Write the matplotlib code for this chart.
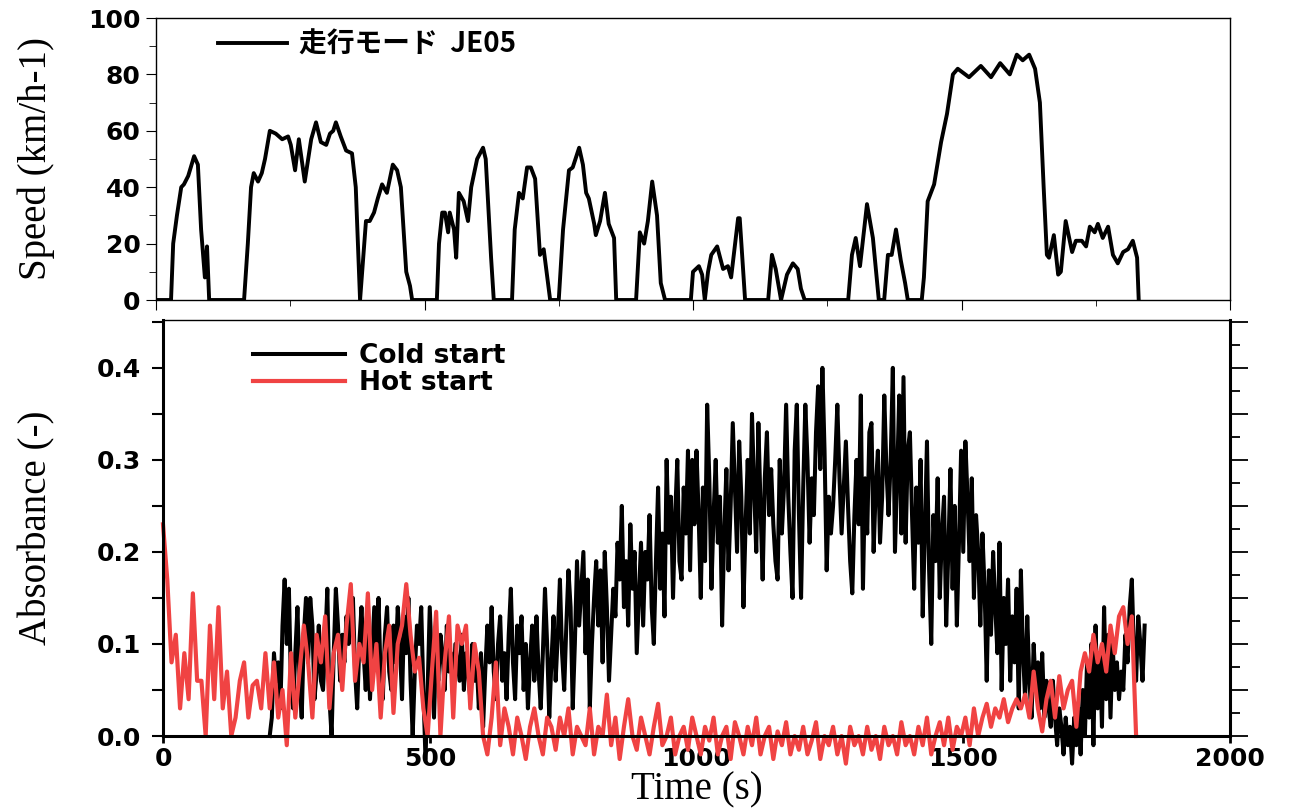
import numpy as np
import matplotlib
matplotlib.use("Agg")
import matplotlib.pyplot as plt
from matplotlib.ticker import MultipleLocator

# JE05 driving mode: time (s), speed (km/h)
speed_t = [0, 28, 32, 39, 47, 52, 60, 71, 78, 84, 91, 95, 99, 164, 171, 177, 182, 190, 197,
           203, 212, 223, 235, 246, 251, 259, 266, 277, 289, 298, 307, 317, 324, 330, 335,
           344, 354, 365, 372, 380, 384, 391, 398, 406, 413, 421, 430, 441, 449, 456, 466,
           473, 477, 523, 527, 533, 538, 544, 547, 555, 559, 564, 573, 581, 587, 598, 609,
           614, 624, 629, 663, 668, 676, 683, 691, 698, 706, 715, 722, 734, 750, 758, 769,
           776, 788, 795, 801, 806, 816, 819, 827, 836, 843, 853, 857, 894, 901, 909, 916,
           924, 933, 940, 948, 996, 1000, 1011, 1017, 1022, 1028, 1034, 1045, 1056, 1065,
           1071, 1084, 1087, 1097, 1140, 1147, 1154, 1164, 1175, 1186, 1195, 1201, 1208,
           1289, 1296, 1303, 1311, 1324, 1335, 1346, 1356, 1363, 1370, 1378, 1387, 1395,
           1400, 1426, 1430, 1437, 1449, 1462, 1473, 1484, 1493, 1514, 1536, 1555, 1572,
           1590, 1603, 1614, 1626, 1637, 1646, 1653, 1659, 1663, 1672, 1680, 1685, 1694,
           1706, 1713, 1724, 1732, 1739, 1748, 1754, 1763, 1773, 1782, 1791, 1801, 1810,
           1819, 1827, 1830]
speed_v = [0, 0, 20, 30, 40, 41, 44, 51, 48, 25, 8, 19, 0, 0, 20, 40, 45, 42, 45,
           50, 60, 59, 57, 58, 55, 46, 57, 42, 57, 63, 56, 55, 59, 60, 63,
           58, 53, 52, 40, 0, 10, 28, 28, 31, 36, 41, 38, 48, 46, 40, 10,
           5, 0, 0, 20, 31, 31, 24, 31, 25, 15, 38, 35, 28, 40, 50, 54,
           50, 15, 0, 0, 25, 38, 36, 47, 47, 43, 16, 18, 0, 0, 25, 46,
           47, 54, 48, 38, 36, 27, 23, 28, 38, 27, 22, 0, 0, 24, 20, 28,
           42, 30, 6, 0, 0, 10, 12, 9, 0, 10, 16, 19, 11, 12,
           8, 29, 29, 0, 0, 16, 11, 0, 9, 13, 11, 4, 0,
           0, 16, 22, 12, 34, 22, 0, 0, 16, 16, 25, 14, 6,
           0, 0, 8, 35, 41, 56, 66, 80, 82, 79, 83, 79, 84,
           80, 87, 85, 87, 82, 70, 40, 16, 15, 23, 9, 10, 28,
           17, 21, 21, 19, 26, 24, 27, 22, 26, 16, 13, 17, 18,
           21, 15, 0]

# cold start absorbance, one value every 4 s from 200 s (one row = 100 s)
cold_t0, cold_step = 200, 4
cold_start = [
    0.00, 0.02, 0.09, 0.06, 0.08, 0.03, 0.12, 0.17, 0.10, 0.16, 0.05, 0.03, 0.09, 0.14, 0.06, 0.02, 0.11, 0.15, 0.08, 0.15, 0.12, 0.04, 0.07, 0.12, 0.06,
    0.05, 0.10, 0.16, 0.04, 0.00, 0.09, 0.16, 0.12, 0.06, 0.11, 0.08, 0.13, 0.10, 0.14, 0.15, 0.07, 0.03, 0.10, 0.14, 0.09, 0.05, 0.12, 0.04, 0.09, 0.14,
    0.09, 0.15, 0.06, 0.04, 0.11, 0.14, 0.07, 0.05, 0.12, 0.08, 0.14, 0.10, 0.04, 0.13, 0.09, 0.15, 0.06, 0.00, 0.07, 0.12, 0.10, 0.14, 0.05, -0.025, 0.05,
    0.14, 0.08, 0.02, 0.10, 0.06, 0.11, 0.09, 0.05, 0.12, 0.07, 0.09, 0.04, 0.10, 0.08, 0.06, 0.11, 0.05, 0.09, 0.07, 0.04, 0.10, 0.06, 0.08, 0.03, 0.09,
    0.01, 0.07, 0.12, 0.08, 0.14, 0.07, 0.04, 0.10, 0.13, 0.06, 0.09, 0.04, 0.11, 0.16, 0.08, 0.04, 0.12, 0.09, 0.13, 0.05, 0.10, 0.03, 0.08, 0.12, 0.06,
    0.13, 0.07, 0.03, 0.09, 0.16, 0.10, 0.02, 0.08, 0.13, 0.06, 0.11, 0.17, 0.09, 0.05, 0.12, 0.18, 0.14, 0.03, 0.10, 0.19, 0.12, 0.16, 0.20, 0.09, 0.17,
    0.03, 0.10, 0.15, 0.19, 0.12, 0.18, 0.08, 0.20, 0.14, 0.06, 0.11, 0.16, 0.13, 0.21, 0.17, 0.25, 0.14, 0.19, 0.12, 0.23, 0.16, 0.20, 0.09, 0.15, 0.21,
    0.12, 0.20, 0.17, 0.24, 0.14, 0.10, 0.19, 0.27, 0.16, 0.22, 0.13, 0.30, 0.21, 0.26, 0.15, 0.24, 0.30, 0.19, 0.17, 0.27, 0.22, 0.31, 0.18, 0.30, 0.23,
    0.31, 0.24, 0.15, 0.27, 0.19, 0.36, 0.28, 0.16, 0.24, 0.30, 0.21, 0.26, 0.12, 0.22, 0.29, 0.18, 0.25, 0.34, 0.27, 0.20, 0.32, 0.26, 0.14, 0.23, 0.30,
    0.22, 0.35, 0.27, 0.20, 0.34, 0.25, 0.17, 0.28, 0.33, 0.24, 0.29, 0.23, 0.19, 0.17, 0.30, 0.22, 0.27, 0.36, 0.26, 0.20, 0.15, 0.31, 0.36, 0.24, 0.15,
    0.27, 0.36, 0.30, 0.21, 0.28, 0.24, 0.33, 0.38, 0.29, 0.40, 0.31, 0.18, 0.26, 0.22, 0.25, 0.30, 0.36, 0.28, 0.22, 0.27, 0.32, 0.25, 0.19, 0.155, 0.24,
    0.30, 0.23, 0.37, 0.16, 0.28, 0.22, 0.33, 0.34, 0.20, 0.27, 0.31, 0.21, 0.26, 0.37, 0.29, 0.24, 0.30, 0.40, 0.20, 0.28, 0.37, 0.22, 0.39, 0.21, 0.31,
    0.33, 0.24, 0.16, 0.27, 0.21, 0.30, 0.13, 0.22, 0.32, 0.18, 0.10, 0.24, 0.19, 0.28, 0.15, 0.22, 0.26, 0.12, 0.20, 0.29, 0.16, 0.25, 0.12, 0.21, 0.31,
    0.20, 0.32, 0.26, 0.19, 0.28, 0.15, 0.24, 0.20, 0.12, 0.22, 0.16, 0.06, 0.18, 0.11, 0.20, 0.14, 0.09, 0.21, 0.05, 0.15, 0.10, 0.17, 0.06, 0.13, 0.08,
    0.16, 0.03, 0.18, 0.09, 0.04, 0.13, 0.06, 0.02, 0.10, 0.05, 0.08, 0.03, 0.09, 0.02, 0.06, 0.03, 0.01, 0.06, 0.02, -0.01, 0.03, 0.01, -0.02, 0.02, -0.01,
    0.01, -0.03, 0.02, -0.01, 0.03, -0.02, 0.05, 0.00, 0.08, 0.02, 0.10, -0.01, 0.12, 0.03, 0.09, 0.01, 0.14, 0.04, 0.11, 0.02, 0.10, 0.05, 0.08, 0.04, 0.07,
    0.05, 0.11, 0.08, 0.14, 0.17, 0.09, 0.06, 0.13, 0.10, 0.06, 0.12,
]

# hot start absorbance, one value every 8 s from 0 s
hot_t0, hot_step = 0, 8
hot_start = [0.23, 0.17, 0.08, 0.11, 0.03, 0.09, 0.04, 0.155, 0.06, 0.06, 0.00, 0.12, 0.04,
             0.14, 0.03, 0.07, 0.00, 0.02, 0.06, 0.08, 0.02, 0.055, 0.06, 0.03, 0.09,
             0.03, 0.08, 0.02, 0.05, -0.01, 0.09, 0.02, 0.07, 0.12, 0.08, 0.02, 0.11, 0.08,
             0.13, 0.03, 0.09, 0.11, 0.05, 0.12, 0.165, 0.06, 0.10, 0.08, 0.155, 0.05,
             0.10, 0.02, 0.09, 0.12, 0.025, 0.10, 0.12, 0.165, 0.11, 0.07, 0.085, 0.03, 0.00,
             0.07, 0.135, 0.00, 0.08, 0.13, 0.02, 0.12, 0.10, 0.12, 0.03, 0.10, 0.07,
             0.00, -0.02, 0.02, 0.08, -0.01, 0.03, 0.01, -0.02, 0.02, 0.00, -0.025, 0.01, 0.03,
             0.00, -0.02, 0.02, 0.01, -0.015, 0.02, 0.00, 0.03, -0.02, 0.01, 0.00, -0.01,
             0.03, -0.02, 0.01, 0.00, 0.045, -0.01, 0.02, -0.025, 0.01, 0.04, 0.00, -0.015, 0.02,
             0.00, -0.02, 0.01, 0.035, -0.01, 0.00, 0.02, -0.02, 0.00, 0.01, -0.015, 0.02,
             0.00, -0.02, 0.01, -0.005, 0.02, -0.02, 0.00, 0.01, -0.025, 0.015, 0.00, -0.02, 0.01,
             -0.01, 0.02, -0.02, 0.00, 0.01, -0.025, 0.005, -0.01, 0.015, -0.02, 0.00, -0.015,
             0.01, -0.02, -0.005, 0.015, -0.025, 0.00, -0.01, 0.01, -0.02, 0.00, -0.03, 0.01, -0.01,
             0.00, -0.02, 0.01, -0.015, 0.00, -0.025, 0.01, -0.01, 0.00, -0.02, 0.015, -0.01,
             0.00, -0.02, 0.01, -0.01, 0.02, -0.02, 0.00, 0.015, -0.01, 0.02, -0.015, 0.01, 0.00,
             0.02, -0.01, 0.03, 0.00, 0.02, 0.035, 0.01, 0.03, 0.02, 0.04, 0.015, 0.03,
             0.04, 0.03, 0.045, 0.02, 0.07, 0.03, 0.005, 0.04, 0.06, 0.02, 0.065, 0.03, 0.05,
             0.06, 0.01, 0.07, 0.09, 0.07, 0.11, 0.08, 0.10, 0.07, 0.12, 0.09, 0.13,
             0.14, 0.10, 0.13, 0.00]

cold_t = cold_t0 + cold_step * np.arange(len(cold_start))
hot_t = hot_t0 + hot_step * np.arange(len(hot_start))

red = "#f04343"
serif = ["Liberation Serif", "DejaVu Serif"]

fig = plt.figure(figsize=(12.96, 8.08), dpi=100)
ax1 = fig.add_axes([156 / 1296, 1 - 300 / 808, 1074 / 1296, 282 / 808])
ax2 = fig.add_axes([163 / 1296, 1 - 736 / 808, 1067 / 1296, 416 / 808])

# --- speed panel
ax1.plot(speed_t, speed_v, color="black", lw=2.8, label="走行モード  JE05")
ax1.set_xlim(0, 2000)
ax1.set_ylim(0, 100)
ax1.xaxis.set_major_locator(MultipleLocator(500))
ax1.xaxis.set_minor_locator(MultipleLocator(250))
ax1.yaxis.set_major_locator(MultipleLocator(20))
ax1.yaxis.set_minor_locator(MultipleLocator(10))
ax1.tick_params(axis="x", which="both", direction="out", labelbottom=False)
ax1.tick_params(axis="x", which="major", length=7)
ax1.tick_params(axis="x", which="minor", length=4)
ax1.tick_params(axis="y", which="major", direction="out", length=7, pad=4)
ax1.tick_params(axis="y", which="minor", direction="out", length=5)
for lab in ax1.get_yticklabels():
    lab.set_fontproperties({"family": "DejaVu Sans", "weight": "bold", "size": 18})
ax1.set_ylabel("Speed (km/h-1)", family=serif, fontsize=28)
ax1.yaxis.set_label_coords(-0.094, 0.5)
for s in ax1.spines.values():
    s.set_linewidth(1.0)
ax1.legend(loc="upper left", bbox_to_anchor=(0.0577, 0.955), frameon=False,
           handlelength=2.5, handletextpad=0.4, borderaxespad=0, borderpad=0,
           prop={"family": ["Noto Sans CJK JP", "DejaVu Sans"], "weight": "bold", "size": 20})

# --- absorbance panel
ax2.plot(cold_t, cold_start, color="black", lw=2.9, label="Cold start", clip_on=False)
ax2.plot(hot_t, hot_start, color=red, lw=3.0, label="Hot start", clip_on=False)
ax2.set_xlim(0, 2000)
ax2.set_ylim(0, 0.452)
ax2.yaxis.set_minor_locator(MultipleLocator(0.05))
ax2.set_yticks([0.0, 0.1, 0.2, 0.3, 0.4])
ax2.set_yticklabels(["0.0", "0.1", "0.2", "0.3", "0.4"], family="DejaVu Sans",
                    weight="bold", fontsize=18)
ax2.set_xticks([0, 500, 1000, 1500, 2000])
ax2.set_xticklabels(["0", "500", "1000", "1500", "2000"], family="DejaVu Sans",
                    weight="bold", fontsize=18)
ax2.tick_params(axis="y", which="both", direction="out", length=8, width=1.5, pad=8)
ax2.tick_params(axis="x", which="major", direction="out", length=5, width=2, pad=3)
ax2.set_ylabel("Absorbance (-)", family=serif, fontsize=28)
ax2.yaxis.set_label_coords(-0.101, 0.5)
ax2.set_xlabel("Time (s)", family=serif, fontsize=28)
ax2.xaxis.set_label_coords(0.5, -0.085)
ax2.spines["top"].set_linewidth(1.0)
for side in ["left", "bottom", "right"]:
    ax2.spines[side].set_linewidth(2.2)

# right side ticks of the absorbance panel
ax2r = ax2.twinx()
ax2r.set_ylim(ax2.get_ylim())
ax2r.yaxis.set_major_locator(MultipleLocator(0.05))
ax2r.yaxis.set_minor_locator(MultipleLocator(0.025))
ax2r.tick_params(axis="y", which="major", direction="out", length=13, width=1.3, labelright=False)
ax2r.tick_params(axis="y", which="minor", direction="out", length=7, width=1.3)
for s in ax2r.spines.values():
    s.set_visible(False)

ax2.legend(loc="upper left", bbox_to_anchor=(0.0843, 0.945), frameon=False,
           handlelength=3.5, handletextpad=0.5, borderaxespad=0, borderpad=0,
           labelspacing=0.05, prop={"family": "DejaVu Sans", "weight": "bold", "size": 19})

fig.savefig("out.png", dpi=100)
